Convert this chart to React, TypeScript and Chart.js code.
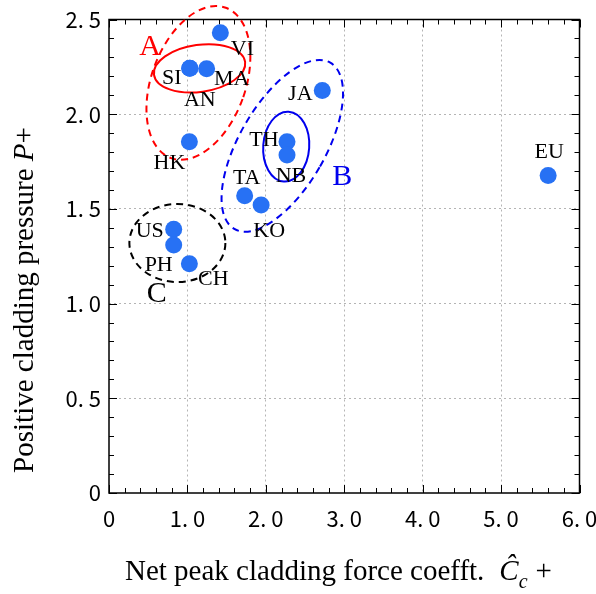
import React, { useEffect, useRef } from 'react';
import { Chart, registerables } from 'chart.js';

Chart.register(...registerables);

// Wind-code cladding comparison: net peak force coefficient vs positive pressure
const codes = ['VI', 'SI', 'MA', 'AN', 'HK', 'JA', 'TH', 'NB', 'TA', 'KO', 'US', 'PH', 'CH', 'EU'];
const forceCoeff = [1.42, 1.03, 1.245, 1.03, 1.025, 2.72, 2.27, 2.27, 1.73, 1.94, 0.825, 0.825, 1.025, 5.6];
const pressure = [2.43, 2.243, 2.24, 2.243, 1.855, 2.125, 1.855, 1.785, 1.57, 1.52, 1.393, 1.31, 1.21, 1.676];

const xTickValues = [0, 1, 2, 3, 4, 5, 6];
const yTickValues = [0, 0.5, 1, 1.5, 2, 2.5];

// label placement relative to each marker (pixels: dx to text centre, dy to baseline)
const labelOffsets: [number, number][] = [
  [22, 22], [-18, 16], [25, 16], [10, 38], [-20, 27], [-22, 9], [-23, 4],
  [4, 27], [2, -12], [8, 32], [-24, 8], [-15, 26], [24, 21], [1, -18],
];

// group outlines: centre in data units, semi-axes in pixels, rotation in degrees
const groups = [
  { name: 'A', cx: 1.14, cy: 2.165, rx: 47, ry: 80, rot: 20, color: '#ff0000', dashed: true },
  { name: '', cx: 1.155, cy: 2.242, rx: 46, ry: 23.5, rot: -8, color: '#ff0000', dashed: false },
  { name: 'B', cx: 2.21, cy: 1.833, rx: 43, ry: 96, rot: 30, color: '#0000ee', dashed: true },
  { name: '', cx: 2.26, cy: 1.829, rx: 23, ry: 35, rot: 4, color: '#0000ee', dashed: false },
  { name: 'C', cx: 0.872, cy: 1.32, rx: 48, ry: 39, rot: 0, color: '#000000', dashed: true },
];
const groupLetterPos: Record<string, [number, number]> = {
  A: [0.524, 2.313],
  B: [2.975, 1.627],
  C: [0.608, 1.006],
};

const SERIF = '"Liberation Serif", "Times New Roman", serif';
const TICK_FONT = '"Noto Sans CJK JP", "Noto Sans", sans-serif';

const fmtTick = (v: number) => (v === 0 ? '0' : v.toFixed(1).replace('.', '. '));

const framePlugin = {
  id: 'frameTicks',
  beforeDatasetsDraw(chart: any) {
    const { ctx, chartArea: a, scales } = chart;
    const xs = scales.x;
    const ys = scales.y;
    ctx.save();
    ctx.strokeStyle = '#000';
    ctx.lineWidth = 1;
    ctx.beginPath();
    for (let i = 0; i <= 30; i++) {
      const px = Math.round(xs.getPixelForValue(i * 0.2)) + 0.5;
      const len = i % 5 === 0 ? 8 : 5;
      ctx.moveTo(px, a.bottom);
      ctx.lineTo(px, a.bottom - len);
      ctx.moveTo(px, a.top);
      ctx.lineTo(px, a.top + len);
    }
    for (let i = 0; i <= 25; i++) {
      const py = Math.round(ys.getPixelForValue(i * 0.1)) + 0.5;
      const len = i % 5 === 0 ? 8 : 5;
      ctx.moveTo(a.left, py);
      ctx.lineTo(a.left + len, py);
      ctx.moveTo(a.right, py);
      ctx.lineTo(a.right - len, py);
    }
    ctx.stroke();
    ctx.lineWidth = 1.5;
    ctx.strokeRect(a.left, a.top, a.right - a.left, a.bottom - a.top);
    ctx.restore();
  },
};

const annotatePlugin = {
  id: 'annotate',
  afterDatasetsDraw(chart: any) {
    const { ctx, scales } = chart;
    const xs = scales.x;
    const ys = scales.y;
    ctx.save();
    // group ellipses
    for (const g of groups) {
      ctx.beginPath();
      ctx.ellipse(
        xs.getPixelForValue(g.cx),
        ys.getPixelForValue(g.cy),
        g.rx,
        g.ry,
        (g.rot * Math.PI) / 180,
        0,
        Math.PI * 2
      );
      ctx.strokeStyle = g.color;
      ctx.lineWidth = 2;
      ctx.setLineDash(g.dashed ? [7, 5] : []);
      ctx.stroke();
    }
    ctx.setLineDash([]);
    // group letters
    ctx.font = `30px ${SERIF}`;
    ctx.textAlign = 'center';
    ctx.textBaseline = 'alphabetic';
    for (const g of groups) {
      if (!g.name) continue;
      const [gx, gy] = groupLetterPos[g.name];
      ctx.fillStyle = g.color;
      ctx.fillText(g.name, xs.getPixelForValue(gx), ys.getPixelForValue(gy));
    }
    // code labels
    ctx.font = `22px ${SERIF}`;
    ctx.fillStyle = '#000';
    codes.forEach((c, i) => {
      const px = xs.getPixelForValue(forceCoeff[i]);
      const py = ys.getPixelForValue(pressure[i]);
      const [dx, dy] = labelOffsets[i];
      ctx.fillText(c, px + dx, py + dy);
    });
    ctx.restore();
  },
};

type Part = { t: string; italic?: boolean; size?: number; dy?: number; gap?: number };

function drawParts(ctx: CanvasRenderingContext2D, parts: Part[], x: number, y: number, base: number) {
  let cx = x;
  for (const p of parts) {
    cx += p.gap ?? 0;
    ctx.font = `${p.italic ? 'italic ' : ''}${p.size ?? base}px ${SERIF}`;
    ctx.fillText(p.t, cx, y + (p.dy ?? 0));
    cx += ctx.measureText(p.t).width;
  }
  return cx - x;
}

function widthOf(ctx: CanvasRenderingContext2D, parts: Part[], base: number) {
  let w = 0;
  for (const p of parts) {
    ctx.font = `${p.italic ? 'italic ' : ''}${p.size ?? base}px ${SERIF}`;
    w += ctx.measureText(p.t).width + (p.gap ?? 0);
  }
  return w;
}

const xTitle: Part[] = [
  { t: 'Net peak cladding force coefft.' },
  { t: 'Ĉ', italic: true, gap: 15 },
  { t: 'c', italic: true, size: 20, dy: 8 },
  { t: '+', gap: 8 },
];
const yTitle: Part[] = [{ t: 'Positive cladding pressure ' }, { t: 'P', italic: true }, { t: '+' }];

const titlePlugin = {
  id: 'axisTitles',
  afterDraw(chart: any) {
    const { ctx, chartArea: a } = chart;
    const base = 29;
    ctx.save();
    ctx.fillStyle = '#000';
    ctx.textAlign = 'left';
    ctx.textBaseline = 'alphabetic';
    drawParts(ctx, xTitle, a.left + 16, 580, base);
    const wy = widthOf(ctx, yTitle, base);
    ctx.translate(33, 300);
    ctx.rotate(-Math.PI / 2);
    drawParts(ctx, yTitle, -wy / 2, 0, base);
    ctx.restore();
  },
};

export default function App() {
  const canvasRef = useRef<HTMLCanvasElement | null>(null);

  useEffect(() => {
    document.body.style.margin = '0';
    const canvas = canvasRef.current;
    if (!canvas) return;
    const chart = new Chart(canvas, {
      type: 'scatter',
      data: {
        datasets: [
          {
            label: 'codes',
            data: forceCoeff.map((x, i) => ({ x, y: pressure[i] })),
            backgroundColor: '#2771f4',
            borderColor: '#2771f4',
            borderWidth: 0,
            pointRadius: 8.5,
            pointHoverRadius: 8.5,
          },
        ],
      },
      options: {
        responsive: false,
        animation: false,
        devicePixelRatio: 1,
        layout: { padding: { left: 0, right: 16.5, top: 19.5, bottom: 0 } },
        plugins: { legend: { display: false }, tooltip: { enabled: false } },
        scales: {
          x: {
            type: 'linear',
            min: 0,
            max: 6,
            afterBuildTicks: (s: any) => {
              s.ticks = xTickValues.map((value) => ({ value }));
            },
            afterFit: (s: any) => {
              s.height = 101;
              s.paddingLeft = 0;
              s.paddingRight = 0;
            },
            border: { display: false, dash: [2, 3] },
            grid: {
              drawTicks: false,
              lineWidth: 1,
              color: (c: any) =>
                c.tick && (c.tick.value === 0 || c.tick.value === 6) ? 'rgba(0,0,0,0)' : '#b4b4b4',
            },
            ticks: {
              padding: 12,
              color: '#000',
              font: { family: TICK_FONT, size: 22 },
              maxRotation: 0,
              callback: (v: any) => fmtTick(Number(v)),
            },
          },
          y: {
            type: 'linear',
            min: 0,
            max: 2.5,
            afterBuildTicks: (s: any) => {
              s.ticks = yTickValues.map((value) => ({ value }));
            },
            afterFit: (s: any) => {
              s.width = 109;
              s.paddingTop = 0;
              s.paddingBottom = 0;
            },
            border: { display: false, dash: [2, 3] },
            grid: {
              drawTicks: false,
              lineWidth: 1,
              color: (c: any) =>
                c.tick && (c.tick.value === 0 || c.tick.value === 2.5) ? 'rgba(0,0,0,0)' : '#b4b4b4',
            },
            ticks: {
              padding: 8,
              color: '#000',
              font: { family: TICK_FONT, size: 22 },
              callback: (v: any) => fmtTick(Number(v)),
            },
          },
        },
      },
      plugins: [framePlugin, annotatePlugin, titlePlugin],
    });
    return () => chart.destroy();
  }, []);

  return (
    <div style={{ width: 596, height: 594, overflow: 'hidden', background: '#fff' }}>
      <canvas ref={canvasRef} width={596} height={594} style={{ display: 'block', width: 596, height: 594 }} />
    </div>
  );
}
